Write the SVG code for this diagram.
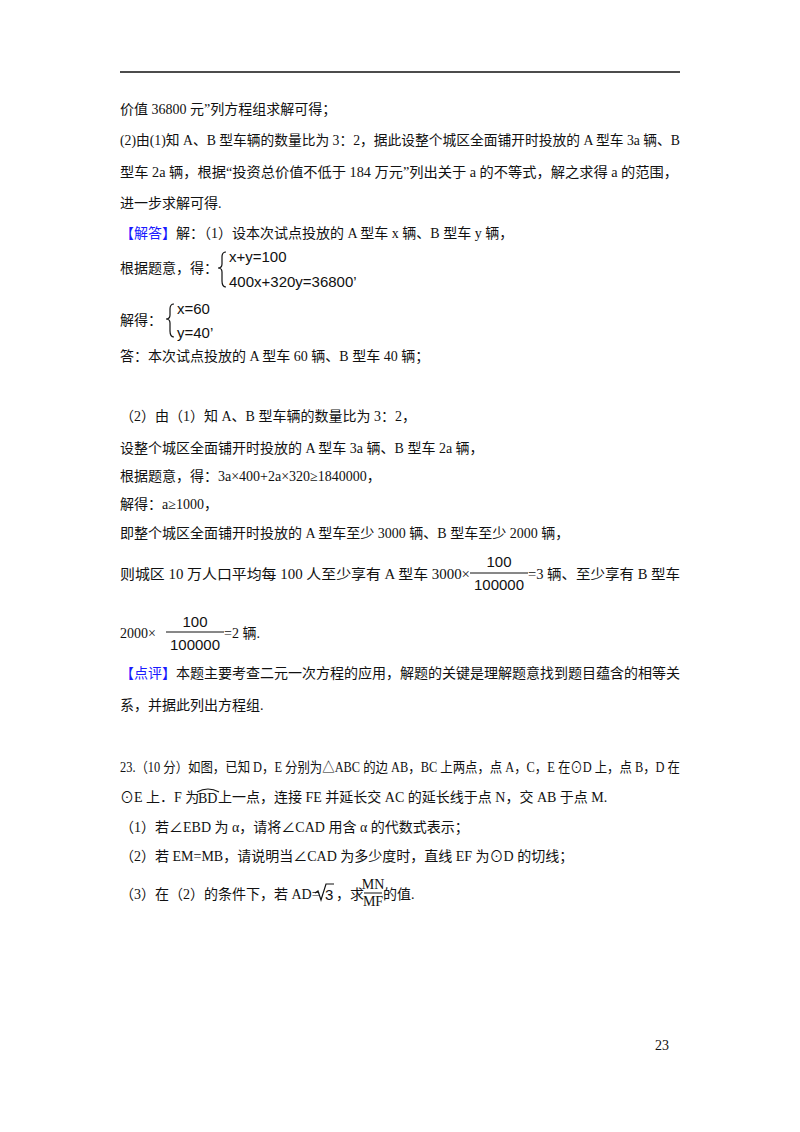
<svg xmlns="http://www.w3.org/2000/svg" width="800" height="1132" viewBox="0 0 800 1132">
<style>
text{font-family:"Liberation Serif","Noto Sans CJK SC",serif;font-size:14px;fill:#111}
.b{fill:#1a1aff}
.m{font-family:"Liberation Sans","Noto Sans CJK SC",sans-serif;font-size:15px}
.f{font-family:"Liberation Sans",sans-serif;font-size:15px;text-anchor:middle}
.k{fill:none;stroke:#111;stroke-width:1.2}
</style>
<rect width="800" height="1132" fill="#fff"/>
<line x1="120" y1="72" x2="680" y2="72" stroke="#111" stroke-width="1.5"/>
<text x="120" y="114">价值 36800 元”列方程组求解可得；</text>
<text x="120" y="145" textLength="560" lengthAdjust="spacingAndGlyphs">(2)由(1)知 A、B 型车辆的数量比为 3：2，据此设整个城区全面铺开时投放的 A 型车 3a 辆、B</text>
<text x="120" y="177" textLength="558" lengthAdjust="spacingAndGlyphs">型车 2a 辆，根据“投资总价值不低于 184 万元”列出关于 a 的不等式，解之求得 a 的范围，</text>
<text x="120" y="208">进一步求解可得.</text>
<text x="120" y="238"><tspan class="b">【解答】</tspan>解：（1）设本次试点投放的 A 型车 x 辆、B 型车 y 辆，</text>
<text x="120" y="273">根据题意，得：</text>
<path class="k" d="M226,252 q-4,0 -4,5 v7 q0,4 -4,4 q4,0 4,4 v9 q0,6 4,6"/>
<text class="m" x="229" y="262">x+y=100</text>
<text class="m" x="229" y="287">400x+320y=36800<tspan>’</tspan></text>
<text x="120" y="325">解得：</text>
<path class="k" d="M174,304 q-4,0 -4,5 v6 q0,4 -4,4 q4,0 4,4 v8 q0,6 4,6"/>
<text class="m" x="177" y="314">x=60</text>
<text class="m" x="177" y="338">y=40<tspan>’</tspan></text>
<text x="120" y="361">答：本次试点投放的 A 型车 60 辆、B 型车 40 辆；</text>
<text x="120" y="421">（2）由（1）知 A、B 型车辆的数量比为 3：2，</text>
<text x="120" y="453">设整个城区全面铺开时投放的 A 型车 3a 辆、B 型车 2a 辆，</text>
<text x="120" y="481">根据题意，得：3a×400+2a×320≥1840000，</text>
<text x="120" y="509">解得：a≥1000，</text>
<text x="120" y="538">即整个城区全面铺开时投放的 A 型车至少 3000 辆、B 型车至少 2000 辆，</text>
<text x="120" y="579" textLength="350" lengthAdjust="spacingAndGlyphs">则城区 10 万人口平均每 100 人至少享有 A 型车 3000×</text>
<text class="f" x="499" y="567">100</text>
<line x1="470" y1="573" x2="528" y2="573" stroke="#111"/>
<text class="f" x="499" y="590">100000</text>
<text x="528" y="579" textLength="152" lengthAdjust="spacingAndGlyphs">=3 辆、至少享有 B 型车</text>
<text x="120" y="638">2000×</text>
<text class="f" x="195" y="627">100</text>
<line x1="166" y1="632" x2="224" y2="632" stroke="#111"/>
<text class="f" x="195" y="650">100000</text>
<text x="224" y="638">=2 辆.</text>
<text x="120" y="678" textLength="560" lengthAdjust="spacingAndGlyphs"><tspan class="b">【点评】</tspan>本题主要考查二元一次方程的应用，解题的关键是理解题意找到题目蕴含的相等关</text>
<text x="120" y="710">系，并据此列出方程组.</text>
<text x="120" y="772" textLength="560" lengthAdjust="spacingAndGlyphs">23.（10 分）如图，已知 D，E 分别为△ABC 的边 AB，BC 上两点，点 A，C，E 在⊙D 上，点 B，D 在</text>
<text x="120" y="802">⊙E 上．F 为</text>
<text x="198" y="803">BD</text>
<path class="k" d="M197,792 q11,-6 22,0"/>
<text x="218" y="802">上一点，连接 FE 并延长交 AC 的延长线于点 N，交 AB 于点 M.</text>
<text x="120" y="832">（1）若∠EBD 为 α，请将∠CAD 用含 α 的代数式表示；</text>
<text x="120" y="861">（2）若 EM=MB，请说明当∠CAD 为多少度时，直线 EF 为⊙D 的切线；</text>
<text x="120" y="899">（3）在（2）的条件下，若 AD=</text>
<path class="k" d="M315,893 l3,-2 l3,9 l5,-16 h8"/>
<text class="m" x="325" y="900">3</text>
<text x="336" y="899">，求</text>
<text x="373" y="889" font-size="11" text-anchor="middle">MN</text>
<line x1="364" y1="893" x2="382" y2="893" stroke="#111"/>
<text x="373" y="906" font-size="11" text-anchor="middle">MF</text>
<text x="383" y="899">的值.</text>
<text x="655" y="1050" font-size="12">23</text>
</svg>
